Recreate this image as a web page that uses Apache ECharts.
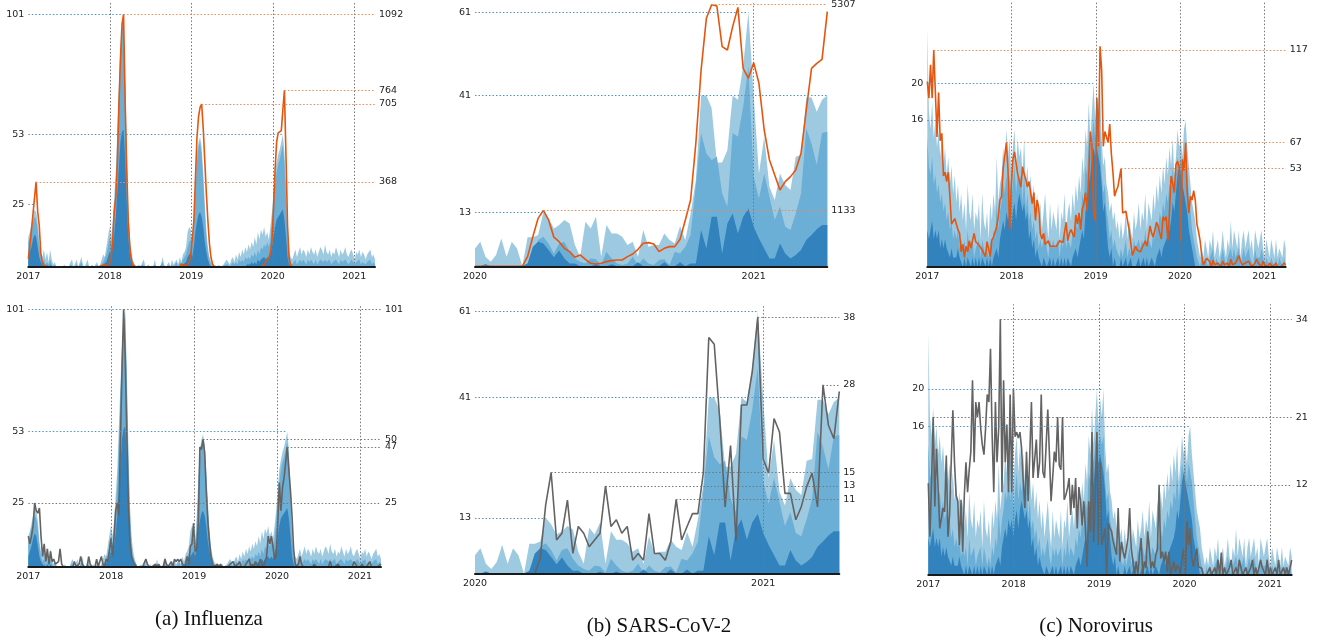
<!DOCTYPE html>
<html><head><meta charset="utf-8">
<script src="https://cdn.jsdelivr.net/npm/echarts@6/dist/echarts.min.js"></script>
<style>html,body{margin:0;padding:0;background:#fff}#c{width:1320px;height:641px}</style>
</head><body><div id="c"></div><script>
// ---------------- DATA ----------------
// Influenza (weekly from 2017)
const fluLight = [
12,14,17,20,23,22,18,10,6,4, 7,3,6,2,7,3,1,2,0,0, 0,0,0,1,0,0,0,2,3,0, 0,3,0,0,4,1,0,0,3,0,
0,1,0,0,2,0,1,3,5,4, 8,12,16,12,18,28,38,55,72,88, 98,101,78,48,24,12,6,3,1,0, 0,1,0,2,3,0,0,1,0,0,
0,3,0,0,0,1,4,1,0,0, 2,0,3,1,2,3,1,4,2,5, 6,8,14,16,15,10,20,35,46,50, 52,48,38,26,15,8,4,2,1,0,
0,0,1,0,0,1,2,3,2,1, 3,4,2,5,3,6,4,7,5,8, 6,9,7,10,8,12,9,14,11,15, 13,16,12,14,11,16,22,30,38,42,
45,47,50,53,46,32,14,6,4,3, 5,7,4,6,8,5,7,6,4,7, 5,8,6,5,7,4,6,8,7,5, 9,6,5,7,4,6,5,8,6,4,
7,5,6,8,5,4,6,7,5,3, 6,5,7,4,6,5,3,5,6,7, 4,5,3];
const fluMid = [
10,12,15,18,20,19,15,8,4,2, 3,1,2,1,3,1,0,1,0,0, 0,0,0,0,0,0,0,1,1,0, 0,1,0,0,2,0,0,0,1,0,
0,0,0,0,1,0,0,1,2,2, 5,8,12,9,14,22,32,48,66,84, 95,98,72,42,20,9,4,2,1,0, 0,0,0,1,1,0,0,0,0,0,
0,1,0,0,0,0,2,0,0,0, 1,0,1,0,1,2,0,2,1,3, 3,5,8,10,11,8,15,30,42,48, 50,45,35,22,12,6,3,1,0,0,
0,0,0,0,0,0,1,1,1,0, 1,2,1,2,1,3,2,3,2,4, 3,4,3,5,4,6,4,7,5,8, 7,9,8,10,8,11,18,26,33,38,
41,43,46,49,42,27,10,4,2,1, 2,3,1,2,3,2,3,2,1,3, 2,3,2,1,3,1,2,3,3,2, 3,2,2,3,1,2,2,3,2,1,
3,2,2,3,2,1,2,3,2,1, 2,2,3,1,2,2,1,2,2,3, 1,2,1];
const fluDark = [
4,6,8,11,13,12,8,4,2,1, 1,0,1,0,1,0,0,0,0,0, 0,0,0,0,0,0,0,0,0,0, 0,0,0,0,0,0,0,0,0,0,
0,0,0,0,0,0,0,0,1,1, 2,4,6,5,8,13,20,30,40,50, 54,55,44,26,12,5,2,1,0,0, 0,0,0,0,0,0,0,0,0,0,
0,0,0,0,0,0,0,0,0,0, 0,0,0,0,0,0,0,0,0,1, 1,2,4,5,6,4,8,14,18,21, 22,20,16,10,6,3,1,0,0,0,
0,0,0,0,0,0,0,0,0,0, 0,0,0,0,0,0,0,0,0,0, 1,1,1,2,1,2,1,3,2,3, 3,4,3,4,3,5,8,12,16,19,
20,21,22,23,19,12,4,1,0,0, 0,0,0,0,0,0,0,0,0,0, 0,0,0,0,0,0,0,0,0,0, 0,0,0,0,0,0,0,0,0,0,
0,0,0,0,0,0,0,0,0,0, 0,0,0,0,0,0,0,0,0,0, 0,0,0];
const fluOrange = [
36,90,160,230,300,368,240,180,60,20, 8,3,0,0,0,0,0,0,0,0, 0,0,0,0,0,0,0,0,0,0, 0,0,0,0,0,0,0,0,0,0,
0,0,0,0,0,0,3,5,7,8, 10,12,14,40,110,240,300,450,700,900, 1050,1092,720,430,200,90,30,8,2,0, 0,0,0,0,0,0,0,0,0,0,
0,0,0,0,0,0,0,0,0,0, 0,0,0,0,0,0,0,0,14,5, 3,5,10,20,50,120,200,380,560,650, 690,705,600,460,320,200,100,40,12,3,
0,0,0,0,0,0,0,0,0,0, 0,0,0,0,0,0,0,0,0,0, 0,0,0,0,0,0,0,0,0,0, 5,10,20,30,40,60,110,250,420,540,
580,585,590,680,764,480,180,40,5,0, 0,0,0,0,0,0,0,0,0,0, 0,0,0,0,0,0,0,0,0,0, 0,0,0,0,0,0,0,0,0,0,
0,0,0,0,0,0,0,0,0,0, 0,0,0,0,0,0,0,0,0,0, 0,0,0];
const fluGray = [
12,9,12,16,25,22,21,23,12,4, 9,2,7,1,6,2,3,1,1,2, 7,1,0,0,0,0,0,0,0,2, 0,0,1,4,1,0,0,0,4,1,
0,0,0,3,0,0,4,1,0,3, 2,6,11,4,12,22,25,20,50,78, 101,82,52,25,10,4,2,1,0,0, 0,0,0,0,3,1,0,0,0,0,
1,0,1,0,0,0,3,1,0,1, 2,0,3,2,3,2,3,1,0,1, 4,1,8,9,17,6,7,17,47,46, 50,45,30,18,10,4,1,0,0,1,
0,1,0,0,0,0,0,1,1,2, 0,0,1,2,0,0,0,0,2,3, 0,1,0,2,1,0,3,1,0,2, 4,12,9,12,8,3,4,17,33,22,
31,35,41,47,38,30,20,7,1,0, 1,4,1,0,0,0,0,0,0,0, 1,0,0,0,0,0,0,0,0,0, 2,0,0,0,0,1,0,0,0,0,
0,0,0,0,0,2,1,0,0,0, 1,0,0,0,0,2,0,0,0,0, 0,0,1];

// SARS-CoV-2 (weekly from 2020)
const sarsLight = [
4.3,5.9,2.3,1.1,2.7,6.7,2.3,5.9,4.3,0, 7,7,7.5,13,11.5,9.1,9.9,11.1,10.3,5.1,
2.3,10.7,9.1,11.9,2.3,9.9,7.9,7.9,7.1,5.1, 5.9,2.3,8.7,4.7,5.1,5.1,7.9,6.3,5.5,9.7,
6.3,12.7,20.7,41,41,38,24.9,24.9,27.9,41, 40,48,61,40.8,22.3,31.1,19.1,15.9,22.3,19.5,
18.3,26.3,26.7,40.5,40.5,37.1,40,41];
const sarsMid = [
0,0,0.5,0,0,0,0,0,0,0, 0.7,3,6.3,7.1,5.5,3.1,5.5,5.9,3.5,1.9,
1.1,0.7,1.9,1.7,0.3,3.5,1.9,0.7,0.3,0.7, 2.3,0.3,1.9,0.7,0.3,1.5,1.7,0.3,3.5,3.1,
4.7,7.5,19.5,32,27.1,25.5,26.3,17.5,14.3,32, 31.1,38.3,48,21.5,16.3,22.3,16.7,11.1,14.3,9.5,
8.7,12.7,17.5,33.1,29.5,24.3,32,32.3];
const sarsDark = [
0,0,0.5,0,0,0,0,0,0,0, 0.7,4.7,5.9,5.5,3.9,2.2,3.8,1.9,0.7,0.7,
0,0,0,0.5,0,0,0.5,0,0,0, 0,1,0,0,0,0,1,0,0,1,
0,0.7,0.7,8.7,4.3,11.9,11.9,3.1,10.3,12.7, 7.9,11.9,13.9,9.5,6.7,4.3,1.9,1.9,5.5,3.1,
1.9,2.7,3.9,6.3,7.5,8.9,9.9,9.9];
const sarsOrange = [
0,0,0,0,0,0,0,0,0,0, 196,600,973,1133,940,590,500,365,297,183,
230,142,61,47,61,95,115,128,128,196, 250,345,466,480,453,297,365,399,399,548,
940,1345,2495,3982,5030,5307,5280,4456,4388,4861, 5253,4016,3813,4131,3712,2765,2157,1850,1548,1717,
1819,1954,2292,3171,4016,4117,4198,5165];
const sarsGray = [
0,0,0,0,0,0,0,0,0,0, 0,0,2.3,10.2,15,5,6,10.9,3,7,
6,4,5,6,13,7,8,6,7,2, 3,2,8.9,3,3,2,4.7,11,5,7,
8.9,8.9,15,35,34,23,9.9,19,4.9,25, 25,30,38,17,14.9,23,21,11.9,11.9,8,
9.9,12.9,14.9,9.9,28,22,20,27];

// Norovirus (weekly from 2017)
const noroLight = [
26,17,15,18,14,16,13,15,12,14, 11,13,10,12,9,11,8,10,7,9, 6,8,5,7,4,9,6,5,8,4, 6,5,7,3,8,5,4,6,3,7,
5,8,6,12,7,9,10,13,11,15, 12,14,10,13,15,11,14,12,13,10, 14,9,11,8,10,7,9,6,8,5, 7,4,6,8,5,3,7,4,6,5,
4,7,3,6,5,8,4,6,7,5, 8,6,9,7,10,8,12,10,15,13, 18,14,17,20,16,19,17,20,14,11, 12,9,8,6,7,5,6,4,5,3,
5,3,4,6,3,5,4,3,6,4, 5,7,4,6,5,8,4,7,6,5, 8,6,9,7,10,8,11,9,12,10, 13,11,14,10,12,15,13,14,12,15,
16,13,11,9,7,6,5,3,2,1, 2,1,3,2,1,3,2,4,1,2, 3,1,2,4,2,1,3,2,5,2, 4,3,2,4,1,3,4,2,3,4,
2,3,1,4,3,2,3,4,2,1, 3,2,1,3,2,1,3,1,2,2, 1,3,2];
const noroMid = [
14,11,10,12,9,10,8,9,7,8, 6,7,5,6,4,5,3,4,3,4, 2,3,2,3,1,4,2,2,3,1, 2,2,3,1,3,2,1,2,1,3,
2,4,3,7,4,6,7,9,8,10, 8,10,7,9,11,8,10,9,10,7, 10,6,8,5,6,4,5,3,4,2, 3,2,3,4,2,1,3,2,3,2,
2,3,1,3,2,4,2,3,3,2, 4,3,5,4,6,5,8,7,11,10, 14,12,14,16,14,15,14,15,10,8, 9,6,5,3,4,2,3,2,2,1,
2,1,2,3,1,2,2,1,3,2, 2,3,2,3,2,4,2,3,3,2, 4,3,5,4,6,5,7,6,8,7, 9,8,11,8,10,12,11,12,10,12,
12,10,8,6,4,3,2,1,1,0, 1,0,1,1,0,1,1,2,0,1, 1,0,1,2,1,0,1,1,2,1, 2,1,1,2,0,1,2,1,1,2,
1,1,0,2,1,1,1,2,1,0, 1,1,0,1,1,0,1,0,1,1, 0,1,1];
const noroDark = [
4,3,4,5,3,4,3,4,2,3, 2,3,2,2,1,2,1,1,1,2, 1,1,0,1,0,1,1,0,1,0, 1,0,1,0,1,1,0,1,0,1,
0,1,1,2,1,3,3,5,4,6, 5,6,4,6,7,5,7,8,7,6, 7,5,6,3,4,2,3,1,2,1, 1,0,1,1,0,0,1,0,1,0,
0,1,0,1,0,1,0,1,1,0, 1,1,2,1,2,2,4,3,6,7, 9,10,12,13,12,13,12,11,9,6, 7,4,2,1,2,0,1,0,0,0,
1,0,0,1,0,0,1,0,0,0, 0,1,0,0,1,0,1,0,0,1, 1,0,1,1,2,1,2,2,3,3, 4,5,7,6,8,10,11,10,9,8,
7,6,4,3,2,1,0,0,0,0, 0,0,0,0,0,0,0,0,0,0, 0,0,0,0,0,0,0,0,0,0, 0,0,0,0,0,0,0,0,0,0,
0,0,0,0,0,0,0,0,0,0, 0,0,0,0,0,0,0,0,0,0, 0,0,0];
const noroOrange = [
100,91,109,91,117,94,70,94,68,72, 49,51,46,51,38,23,24,26,25,20, 18,8,12,5,11,8,14,10,11,18,
13.5,12.6,11.7,10.8,9,7.2,5.4,13.5,14.4,5.4, 14.4,16,17,21.6,27,36,37.8,53,54,67, 52,20,43,58,62,63,50,49,43,54,
50,47,43,46,40,34,40,25,36,32, 18,15,18,12,13,14,11,10,11,10, 11,10,14,13,13,14,24,14,18,20,
21,16,28,23,29,20,31,34,40,30, 49,73,65,29,25,91,65,119,106,65, 73,70,67,77,61,51,38,41,43,44,
53,29,28,30,29,20,13,6,7,11, 9,9,8,10,11,14,11,11,22,18, 16,20,24,22,18,15,27,25,27,14,
29,49,45,40,55,57,54,14,58,52, 67,40,29,38,36,41,36,23,19,14, 6,1,0,4.5,5.4,2.7,0,3.6,1,0,
2,1,0,3,1,0,2,0,4,1, 0,2,1,6,3,1,0,2,1,3, 2,0,1,2,4,2,1,0,3,1, 1,0,2,1,0,1,2,0,1,0, 1,2,1];
const noroGray = [
12.2,5.1,12.4,21,9.1,16.8,17,6.2,6,8.9, 8.4,15.9,5.1,8,8,21.9,15,10.6,9.8,4, 10,3.1,10.6,15,11,14,16.4,25.9,15,23,
21,23,19.5,17.3,16,19.5,24,23,30.1,18.6, 11,23,15,19.5,34,11,25.9,15,20,11, 24,11,24.8,18.4,19,18.2,19,16.8,12.4,8.9,
16.4,9.8,16,23,12.9,12.9,18,12.9,15,24, 13.7,12.9,17.3,22,16,9.8,13,16.4,15,21, 14.6,14,21,10,10.6,11.5,12.9,8,12,8.9,
12.9,6.2,11.7,9.8,6.6,9.8,6.2,1.1,9.8,5.8, 19,4.4,10.6,19,4,15,4,4,6.2,0, 6.9,6.2,5.8,4.4,4.4,2.7,8.9,1.8,4.4,3.1,
2.2,3.5,5,8.9,3.5,1.8,0,1.8,0,2.7, 4.9,0,1.8,0.9,5.8,3.5,0.9,1.8,0.9,2.7, 3.5,12,2.2,3.1,1.8,3.1,0.4,3.1,0,0.9,
1.8,0.4,1.3,1,0,2.2,3.5,0,7.1,4, 6.2,2.2,1.1,1.1,3.5,1.1,1.1,0.9,0,0, 0,0,1,0,0,1,0,2,0,3,
0,1,0,0,1,2,0,0,1,0, 2,1,0,0,1,0,0,1,2,0, 1,0,0,2,1,1,0,2,0,1, 0,0,1,0,2,0,0,1,0,1, 0,1,2];

// tick labels / reference values: [value, week index]
const fluYears = [2017, 2018, 2019, 2020, 2021];
const sarsYears = [2020, 2021];
const fluTopLeftRefs  = [[101, 61], [53, 163], [25, 3]];
const fluTopRightRefs = [[1092, 61], [764, 164], [705, 111], [368, 5]];
const fluBotLeftRefs  = [[101, 60], [53, 163], [25, 4]];
const fluBotRightRefs = [[101, 60], [50, 110], [47, 163], [25, 4]];
const sarsTopLeftRefs  = [[61, 52], [41, 67], [13, 13]];
const sarsTopRightRefs = [[5307, 45], [1133, 13]];
const sarsBotLeftRefs  = [[61, 52], [41, 67], [13, 13]];
const sarsBotRightRefs = [[38, 52], [28, 64], [15, 14], [13, 24], [11, 37]];
const noroTopLeftRefs  = [[20, 103], [16, 160]];
const noroTopRightRefs = [[117, 4], [67, 49], [53, 120]];
const noroBotLeftRefs  = [[20, 107], [16, 160]];
const noroBotRightRefs = [[34, 44], [21, 3], [12, 141]];
const captions = ['(a) Influenza', '(b) SARS-CoV-2', '(c) Norovirus'];

// ---------------- LAYOUT ----------------
const WEEK = 7 / 365.25;
const ORANGE = '#e6550d', GRAY = '#636363';
const AREA_COLORS = ['#9ecae1', '#6baed6', '#3182bd'];
const panels = [
  {grid:{left:28.3, top:3, width:346.7, height:264}, x0:2017, step:WEEK, years:fluYears,
   areas:[fluLight, fluMid, fluDark], line:fluOrange, lineColor:ORANGE, refColor:'#f08a50',
   lMax:105.6, rMax:1141.7, lRefs:fluTopLeftRefs, rRefs:fluTopRightRefs},
  {grid:{left:28.3, top:305, width:352.7, height:261.7}, x0:2017, step:WEEK, years:fluYears,
   areas:[fluLight, fluMid, fluDark], line:fluGray, lineColor:GRAY, refColor:'#777',
   lMax:102.7, rMax:102.7, lRefs:fluBotLeftRefs, rRefs:fluBotRightRefs},
  {grid:{left:475, top:3, width:352.3, height:263.3}, x0:2020, step:1/53, years:sarsYears,
   areas:[sarsLight, sarsMid, sarsDark], line:sarsOrange, lineColor:ORANGE, refColor:'#f08a50',
   lMax:63.2, rMax:5341, lRefs:sarsTopLeftRefs, rRefs:sarsTopRightRefs},
  {grid:{left:475, top:305, width:364.3, height:268.7}, x0:2020, step:1/53, years:sarsYears,
   areas:[sarsLight, sarsMid, sarsDark], line:sarsGray, lineColor:GRAY, refColor:'#777',
   lMax:62.56, rMax:39.82, lRefs:sarsBotLeftRefs, rRefs:sarsBotRightRefs},
  {grid:{left:927.3, top:2, width:358.4, height:264.7}, x0:2017, step:WEEK, years:fluYears,
   areas:[noroLight, noroMid, noroDark], line:noroOrange, lineColor:ORANGE, refColor:'#f08a50',
   lMax:28.87, rMax:142.9, lRefs:noroTopLeftRefs, rRefs:noroTopRightRefs},
  {grid:{left:928.3, top:304.3, width:363.4, height:270.7}, x0:2017, step:WEEK, years:fluYears,
   areas:[noroLight, noroMid, noroDark], line:noroGray, lineColor:GRAY, refColor:'#777',
   lMax:29.1, rMax:36.0, lRefs:noroBotLeftRefs, rRefs:noroBotRightRefs}
];

const FONT = 'DejaVu Sans';
const plain = v => String(Math.round(v));
const grids = [], xAxes = [], yAxes = [], series = [];
panels.forEach((p, i) => {
  const n = p.line.length;
  const xMax = p.x0 + (n - 1) * p.step;
  const xAt = w => p.x0 + w * p.step;
  const pts = arr => arr.map((v, k) => [p.x0 + k * p.step, v]);
  grids.push(Object.assign({outerBoundsMode:'none', containLabel:false}, p.grid));
  xAxes.push({type:'value', gridIndex:i, min:p.x0, max:xMax, z:10,
    axisLine:{show:true, onZero:false, lineStyle:{color:'#1a1a1a', width:2}},
    axisTick:{show:false}, splitLine:{show:false},
    axisLabel:{customValues:p.years, formatter:plain,
      fontFamily:FONT, fontSize:9.5, color:'#222', margin:5}});
  yAxes.push({type:'value', gridIndex:i, position:'left', min:0, max:p.lMax,
    axisLine:{show:false}, axisTick:{show:false}, splitLine:{show:false},
    axisLabel:{customValues:p.lRefs.map(r => r[0]), formatter:plain, fontFamily:FONT, fontSize:9.5, color:'#222', margin:4}});
  yAxes.push({type:'value', gridIndex:i, position:'right', min:0, max:p.rMax,
    axisLine:{show:false}, axisTick:{show:false}, splitLine:{show:false},
    axisLabel:{customValues:p.rRefs.map(r => r[0]), formatter:plain, fontFamily:FONT, fontSize:9.5, color:'#222', margin:4}});
  p.areas.forEach((arr, j) => {
    const s = {type:'line', xAxisIndex:i, yAxisIndex:2*i, data:pts(arr), symbol:'none', showSymbol:false,
      lineStyle:{width:0, color:AREA_COLORS[j]}, itemStyle:{color:AREA_COLORS[j]},
      areaStyle:{color:AREA_COLORS[j], opacity:1}, silent:true, animation:false};
    if (j === p.areas.length - 1) {
      const md = [];
      p.years.filter(y => y > p.x0).forEach(y => md.push({xAxis:y, lineStyle:{color:'#777', type:[1.5,2], width:1}}));
      p.lRefs.forEach(r => md.push([{coord:[p.x0, r[0]], lineStyle:{color:'#4e94cc', type:[1.5,2], width:1}},
                                    {coord:[xAt(r[1]), r[0]]}]));
      s.markLine = {silent:true, symbol:['none','none'], label:{show:false}, animation:false, data:md};
    }
    series.push(s);
  });
  series.push({type:'line', xAxisIndex:i, yAxisIndex:2*i+1, data:pts(p.line), symbol:'none', showSymbol:false,
    lineStyle:{width:1.6, color:p.lineColor}, itemStyle:{color:p.lineColor}, silent:true, animation:false, z:3,
    markLine:{silent:true, symbol:['none','none'], label:{show:false}, animation:false,
      data:p.rRefs.map(r => [{coord:[xAt(r[1]), r[0]], lineStyle:{color:p.refColor, type:[1.5,2], width:1}},
                             {coord:[xMax, r[0]]}])}});
});

const chart = echarts.init(document.getElementById('c'), null, {renderer:'canvas'});
chart.setOption({
  animation:false,
  grid:grids, xAxis:xAxes, yAxis:yAxes, series:series,
  graphic:[
    {type:'text', x:209, y:619, style:{text:captions[0], font:'21px "Liberation Serif"', fill:'#111', align:'center', verticalAlign:'middle'}},
    {type:'text', x:659, y:626, style:{text:captions[1], font:'21px "Liberation Serif"', fill:'#111', align:'center', verticalAlign:'middle'}},
    {type:'text', x:1096, y:626, style:{text:captions[2], font:'21px "Liberation Serif"', fill:'#111', align:'center', verticalAlign:'middle'}}
  ]
});
</script></body></html>
